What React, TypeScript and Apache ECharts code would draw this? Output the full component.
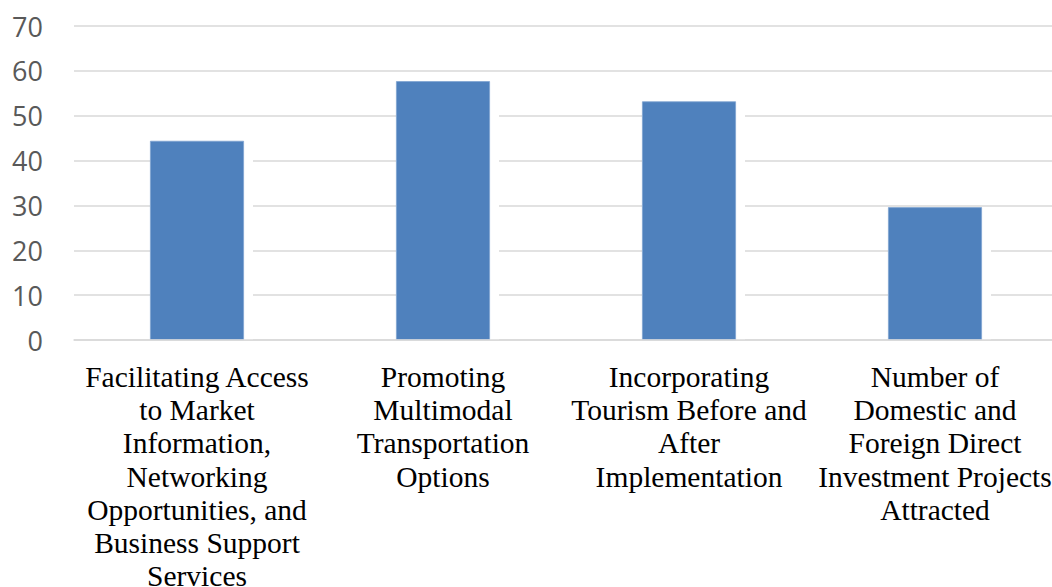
import React, { useEffect, useRef } from "react";
import * as echarts from "echarts";

// Category labels (with their printed line breaks) and bar values
const categories: string[] = [
  "Facilitating Access\nto Market\nInformation,\nNetworking\nOpportunities, and\nBusiness Support\nServices",
  "Promoting\nMultimodal\nTransportation\nOptions",
  "Incorporating\nTourism Before and\nAfter\nImplementation",
  "Number of\nDomestic and\nForeign Direct\nInvestment Projects\nAttracted",
];
const values: number[] = [44.4, 57.7, 53.2, 29.6];
const yTicks = { min: 0, max: 70, interval: 10 };

export default function App() {
  const ref = useRef<HTMLDivElement>(null);

  useEffect(() => {
    if (!ref.current) return;
    const chart = echarts.init(ref.current, undefined, { renderer: "svg" });
    chart.setOption({
      animation: false,
      backgroundColor: "#ffffff",
      grid: {
        left: 74,
        top: 26,
        bottom: 247,
        right: -6,
        containLabel: false,
        outerBoundsMode: "none",
      },
      xAxis: {
        type: "category",
        data: categories,
        z: 10,
        axisLine: { lineStyle: { color: "#D9D9D9", width: 1.5 } },
        axisTick: { alignWithLabel: false, length: 7, lineStyle: { color: "#D9D9D9", width: 1.5 } },
        axisLabel: {
          interval: 0,
          margin: 20,
          color: "#000000",
          fontFamily: "'Liberation Serif', 'Times New Roman', serif",
          fontSize: 29.5,
          lineHeight: 33.3,
          align: "center",
        },
      },
      yAxis: {
        type: "value",
        min: yTicks.min,
        max: yTicks.max,
        interval: yTicks.interval,
        axisLine: { show: false },
        axisTick: { show: false },
        axisLabel: {
          margin: 31,
          color: "#595959",
          fontFamily: "'Open Sans', 'Noto Sans', sans-serif",
          fontSize: 27,
        },
        splitLine: { lineStyle: { color: "#D9D9D9", width: 1.5 } },
      },
      series: [
        {
          // white halo behind each bar that breaks the gridlines
          type: "bar",
          data: values,
          barWidth: 103,
          silent: true,
          itemStyle: { color: "#ffffff" },
        },
        {
          type: "bar",
          data: values,
          barWidth: 94,
          barGap: "-100%",
          itemStyle: { color: "#4F81BD", borderColor: "#7FA3D1", borderWidth: 0.8 },
        },
      ],
    });
    return () => chart.dispose();
  }, []);

  return (
    <div
      ref={ref}
      style={{ position: "absolute", left: 0, top: 0, width: 1052, height: 587 }}
    />
  );
}
